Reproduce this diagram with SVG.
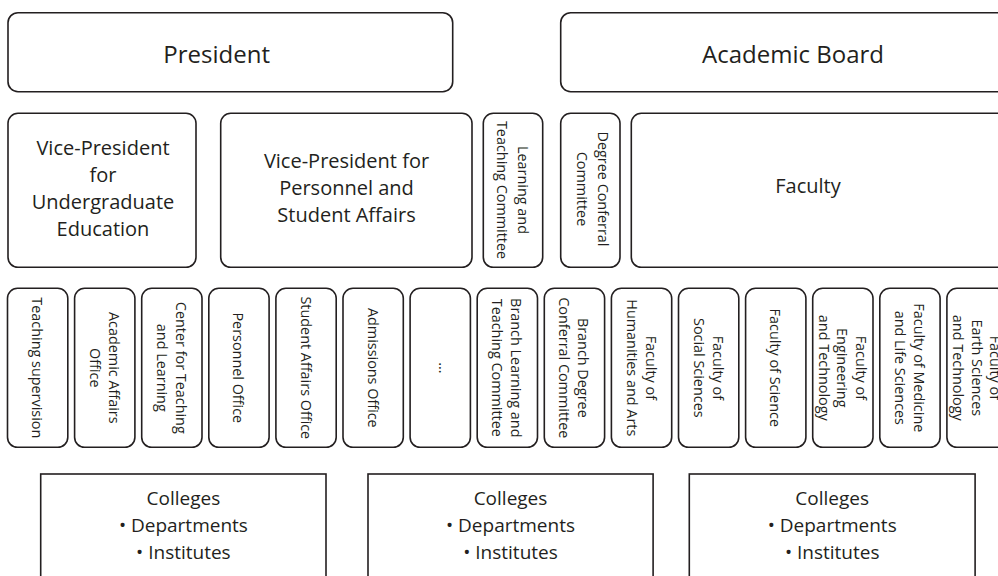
<svg xmlns="http://www.w3.org/2000/svg" width="998" height="576" viewBox="0 0 998 576">
<style>
.box{fill:#fff;stroke:#231f20;stroke-width:1.6}
.sq{fill:#fff;stroke:#231f20;stroke-width:1.6}
text{font-family:"Open Sans","Noto Sans","DejaVu Sans",sans-serif;fill:#231f20;text-anchor:middle}
.t1{font-size:24px}
.t2{font-size:20px}
.t3{font-size:19px}
.v{font-size:14.4px}
</style>
<rect width="998" height="576" fill="#fff"/>
<g id="connectors"/>
<!-- top row -->
<g id="president"><rect class="box" x="8" y="12.7" width="444.7" height="79" rx="10"/><text class="t1" x="216.7" y="62.7">President</text></g>
<g id="academic-board"><rect class="box" x="560.7" y="12.7" width="480" height="79" rx="10"/><text class="t1" x="793" y="62.7">Academic Board</text></g>
<!-- second row -->
<g id="vp-undergrad"><rect class="box" x="8" y="113.3" width="188" height="154" rx="10"/><text class="t2"><tspan x="103" y="155">Vice-President</tspan><tspan x="103" y="181.7">for</tspan><tspan x="103" y="209">Undergraduate</tspan><tspan x="103" y="236">Education</tspan></text></g>
<g id="vp-personnel"><rect class="box" x="220.7" y="113.3" width="251.3" height="154" rx="10"/><text class="t2"><tspan x="346.5" y="168.3">Vice-President for</tspan><tspan x="346.5" y="195">Personnel and</tspan><tspan x="346.5" y="221.7">Student Affairs</tspan></text></g>
<g id="learning-teaching-committee"><rect class="box" x="483.3" y="113.3" width="59.4" height="154" rx="10"/><text class="v" transform="translate(512,190) rotate(90)"><tspan x="0" y="-5.5">Learning and</tspan><tspan x="0" y="15.5">Teaching Committee</tspan></text></g>
<g id="degree-conferral-committee"><rect class="box" x="560.7" y="113.3" width="59.3" height="154" rx="10"/><text class="v" transform="translate(592,189) rotate(90)"><tspan x="0" y="-5.5">Degree Conferral</tspan><tspan x="0" y="15.5">Committee</tspan></text></g>
<g id="faculty"><rect class="box" x="631.3" y="113.3" width="420" height="154" rx="10"/><text class="t2" x="808" y="192.7">Faculty</text></g>
<!-- third row -->
<g id="teaching-supervision"><rect class="box" x="7.5" y="288.3" width="60.3" height="159" rx="10"/><text class="v" transform="translate(37.6,367.8) rotate(90)"><tspan x="0" y="5.5">Teaching supervision</tspan></text></g>
<g id="academic-affairs-office"><rect class="box" x="74.6" y="288.3" width="60.3" height="159" rx="10"/><text class="v" transform="translate(104.7,367.8) rotate(90)"><tspan x="0" y="-4">Academic Affairs</tspan><tspan x="0" y="15">Office</tspan></text></g>
<g id="center-teaching-learning"><rect class="box" x="141.7" y="288.3" width="60.3" height="159" rx="10"/><text class="v" transform="translate(171.8,367.8) rotate(90)"><tspan x="0" y="-4">Center for Teaching</tspan><tspan x="0" y="15">and Learning</tspan></text></g>
<g id="personnel-office"><rect class="box" x="208.8" y="288.3" width="60.3" height="159" rx="10"/><text class="v" transform="translate(238.9,367.8) rotate(90)"><tspan x="0" y="5.5">Personnel Office</tspan></text></g>
<g id="student-affairs-office"><rect class="box" x="275.9" y="288.3" width="60.3" height="159" rx="10"/><text class="v" transform="translate(306,367.8) rotate(90)"><tspan x="0" y="5.5">Student Affairs Office</tspan></text></g>
<g id="admissions-office"><rect class="box" x="343" y="288.3" width="60.3" height="159" rx="10"/><text class="v" transform="translate(373.1,367.8) rotate(90)"><tspan x="0" y="5.5">Admissions Office</tspan></text></g>
<g id="more"><rect class="box" x="410.1" y="288.3" width="60.3" height="159" rx="10"/><text class="v" transform="translate(440.2,367.8) rotate(90)"><tspan x="0" y="1">…</tspan></text></g>
<g id="branch-learning-teaching-committee"><rect class="box" x="477.2" y="288.3" width="60.3" height="159" rx="10"/><text class="v" transform="translate(507.3,367.8) rotate(90)"><tspan x="0" y="-4">Branch Learning and</tspan><tspan x="0" y="15">Teaching Committee</tspan></text></g>
<g id="branch-degree-conferral-committee"><rect class="box" x="544.3" y="288.3" width="60.3" height="159" rx="10"/><text class="v" transform="translate(574.4,367.8) rotate(90)"><tspan x="0" y="-4">Branch Degree</tspan><tspan x="0" y="15">Conferral Committee</tspan></text></g>
<g id="faculty-humanities-arts"><rect class="box" x="611.4" y="288.3" width="60.3" height="159" rx="10"/><text class="v" transform="translate(641.5,367.8) rotate(90)"><tspan x="0" y="-4">Faculty of</tspan><tspan x="0" y="15">Humanities and Arts</tspan></text></g>
<g id="faculty-social-sciences"><rect class="box" x="678.5" y="288.3" width="60.3" height="159" rx="10"/><text class="v" transform="translate(708.6,367.8) rotate(90)"><tspan x="0" y="-4">Faculty of</tspan><tspan x="0" y="15">Social Sciences</tspan></text></g>
<g id="faculty-science"><rect class="box" x="745.6" y="288.3" width="60.3" height="159" rx="10"/><text class="v" transform="translate(775.7,367.8) rotate(90)"><tspan x="0" y="5.5">Faculty of Science</tspan></text></g>
<g id="faculty-engineering-technology"><rect class="box" x="812.7" y="288.3" width="60.3" height="159" rx="10"/><text class="v" transform="translate(842.8,367.8) rotate(90)"><tspan x="0" y="-13">Faculty of</tspan><tspan x="0" y="5.5">Engineering</tspan><tspan x="0" y="24">and Technology</tspan></text></g>
<g id="faculty-medicine-life-sciences"><rect class="box" x="879.8" y="288.3" width="60.3" height="159" rx="10"/><text class="v" transform="translate(909.9,367.8) rotate(90)"><tspan x="0" y="-4">Faculty of Medicine</tspan><tspan x="0" y="15">and Life Sciences</tspan></text></g>
<g id="faculty-earth-sciences-technology"><rect class="box" x="946.9" y="288.3" width="60.3" height="159" rx="10"/><text class="v" transform="translate(977,367.8) rotate(90)"><tspan x="0" y="-13">Faculty of</tspan><tspan x="0" y="5.5">Earth Sciences</tspan><tspan x="0" y="24">and Technology</tspan></text></g>
<!-- bottom row -->
<g id="colleges-1"><rect class="sq" x="40.7" y="474" width="285.3" height="140"/><text class="t3"><tspan x="183.4" y="505">Colleges</tspan><tspan x="183.4" y="532">• Departments</tspan><tspan x="183.4" y="559">• Institutes</tspan></text></g>
<g id="colleges-2"><rect class="sq" x="368" y="474" width="285.1" height="140"/><text class="t3"><tspan x="510.5" y="505">Colleges</tspan><tspan x="510.5" y="532">• Departments</tspan><tspan x="510.5" y="559">• Institutes</tspan></text></g>
<g id="colleges-3"><rect class="sq" x="689.3" y="474" width="285.8" height="140"/><text class="t3"><tspan x="832.2" y="505">Colleges</tspan><tspan x="832.2" y="532">• Departments</tspan><tspan x="832.2" y="559">• Institutes</tspan></text></g>
</svg>
